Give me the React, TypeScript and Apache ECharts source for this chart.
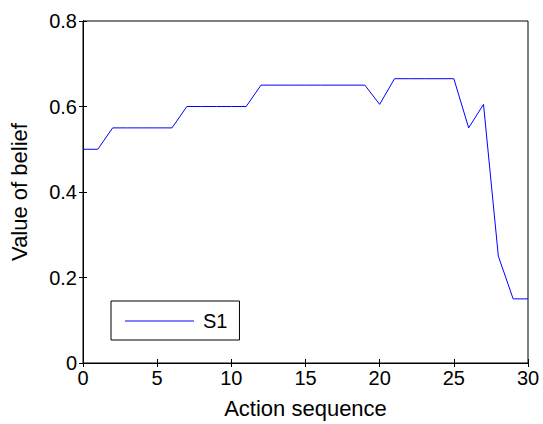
import React, { useEffect, useRef } from "react";
import * as echarts from "echarts";

const xValues = [0, 1, 2, 3, 4, 5, 6, 7, 8, 9, 10, 11, 12, 13, 14, 15, 16, 17, 18, 19, 20, 21, 22, 23, 24, 25, 26, 27, 28, 29, 30];
const s1Values = [0.5, 0.5, 0.55, 0.55, 0.55, 0.55, 0.55, 0.6, 0.6, 0.6, 0.6, 0.6, 0.65, 0.65, 0.65, 0.65, 0.65, 0.65, 0.65, 0.65, 0.605, 0.665, 0.665, 0.665, 0.665, 0.665, 0.55, 0.605, 0.25, 0.15, 0.15];
const seriesName = "S1";
const xTitle = "Action sequence";
const yTitle = "Value of belief";

const FONT = "'Liberation Sans', Arial, Helvetica, sans-serif";

export default function App() {
  const ref = useRef<HTMLDivElement>(null);
  useEffect(() => {
    if (!ref.current) return;
    const chart = echarts.init(ref.current, undefined, { renderer: "svg" });
    const tickStyle = { show: true, inside: true, length: 4, lineStyle: { color: "#000", width: 1 } };
    chart.setOption({
      animation: false,
      backgroundColor: "#fff",
      textStyle: { fontFamily: FONT },
      grid: { left: 83, right: 15, top: 21, bottom: 59, show: true, borderColor: "#000", borderWidth: 1, backgroundColor: "transparent" },
      legend: {
        left: 111,
        top: 301,
        padding: [10, 12, 9, 14],
        borderColor: "#000",
        borderWidth: 1,
        borderRadius: 0,
        backgroundColor: "#fff",
        itemWidth: 69,
        itemHeight: 1,
        data: [{ name: seriesName, icon: "rect" }],
        textStyle: { fontSize: 20, color: "#000", fontFamily: FONT, padding: [0, 0, 0, 4] },
      },
      xAxis: [
        {
          type: "value",
          min: 0,
          max: 30,
          interval: 5,
          position: "bottom",
          name: xTitle,
          nameLocation: "middle",
          nameGap: 34,
          nameTextStyle: { fontSize: 22, color: "#000", fontFamily: FONT },
          axisLine: { show: true, lineStyle: { color: "#000", width: 1 } },
          axisTick: tickStyle,
          axisLabel: { fontSize: 20, color: "#000", margin: 5, fontFamily: FONT },
          splitLine: { show: false },
        },
        {
          type: "value",
          min: 0,
          max: 30,
          interval: 5,
          position: "top",
          axisLine: { show: true, lineStyle: { color: "#000", width: 1 } },
          axisTick: tickStyle,
          axisLabel: { show: false },
          splitLine: { show: false },
        },
      ],
      yAxis: [
        {
          type: "value",
          min: 0,
          max: 0.8,
          interval: 0.2,
          position: "left",
          name: yTitle,
          nameLocation: "middle",
          nameGap: 53,
          nameTextStyle: { fontSize: 22, color: "#000", fontFamily: FONT },
          axisLine: { show: true, lineStyle: { color: "#000", width: 1 } },
          axisTick: tickStyle,
          axisLabel: { fontSize: 20, color: "#000", margin: 6, fontFamily: FONT },
          splitLine: { show: false },
        },
        {
          type: "value",
          min: 0,
          max: 0.8,
          interval: 0.2,
          position: "right",
          axisLine: { show: true, lineStyle: { color: "#000", width: 1 } },
          axisTick: tickStyle,
          axisLabel: { show: false },
          splitLine: { show: false },
        },
      ],
      series: [
        {
          name: seriesName,
          type: "line",
          xAxisIndex: 0,
          yAxisIndex: 0,
          data: xValues.map((x, i) => [x, s1Values[i]]),
          showSymbol: false,
          symbol: "none",
          lineStyle: { color: "#0000ff", width: 1 },
          itemStyle: { color: "#0000ff" },
        },
      ],
    });
    return () => chart.dispose();
  }, []);
  return <div ref={ref} style={{ position: "fixed", left: 0, top: 0, width: 543, height: 424, background: "#fff" }} />;
}
